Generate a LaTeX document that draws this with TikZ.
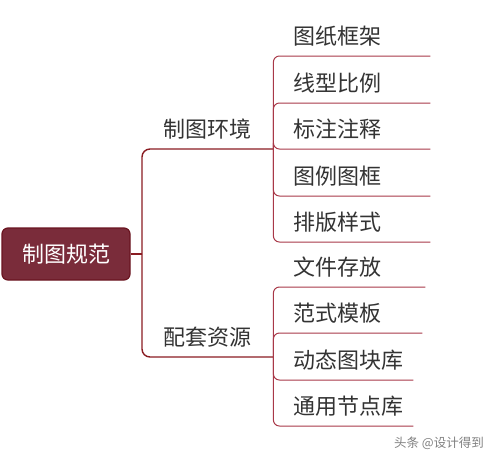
\documentclass[tikz,border=0pt]{standalone}
\usepackage{fontspec}
\newfontfamily\cjk{Noto Sans CJK SC}
\usetikzlibrary{positioning}
\usepackage{xcolor}

\definecolor{rootred}{HTML}{7A2C3A}
\definecolor{rootedge}{HTML}{6A1420}
\definecolor{mainline}{HTML}{8A1C22}
\definecolor{subline}{HTML}{A83848}
\definecolor{txtgray}{HTML}{333333}

\tikzset{
	rootbox/.style={draw=rootedge, fill=rootred, rounded corners=6pt, line width=1.2pt, text=white, minimum width=128pt, minimum height=52pt},
	branch/.style={anchor=south west, minimum width=131pt, inner xsep=0pt, inner ysep=11pt, text depth=0pt, text=txtgray},
	leaf/.style={anchor=south west, align=left, text width=#1, inner xsep=0pt, inner ysep=11pt, text depth=0pt, text=txtgray},
	mainlink/.style={draw=mainline, line width=1.4pt, rounded corners=8pt},
	sublink/.style={draw=subline, line width=1pt, rounded corners=6pt}
}

\begin{document}
\begin{tikzpicture}[x=1pt, y=-1pt, every node/.style={font=\cjk\fontsize{22}{26}\selectfont}]
	\useasboundingbox (0,0) rectangle (495,459);

	\node[rootbox] (root) at (66,254) {制图规范};
	\coordinate (j0) at (142,254);

	\node[branch] (env) at (142,149) {制图环境};
	\node[branch] (res) at (142,357) {配套资源};

	\draw[mainlink] (root.east) -- (j0);
	\draw[mainlink] (j0) |- (env.south east);
	\draw[mainlink] (j0) |- (res.south east);

	% 制图环境
	\node[leaf=137pt] (e1) at (293,56) {图纸框架};
	\node[leaf=137pt] (e2) at (293,103) {线型比例};
	\node[leaf=137pt] (e3) at (293,149) {标注注释};
	\node[leaf=137pt] (e4) at (293,196) {图例图框};
	\node[leaf=137pt] (e5) at (293,242) {排版样式};
	\foreach \c in {e1,e2,e3,e4,e5}
		\draw[sublink] (env.south east) |- (\c.south east);

	% 配套资源
	\node[leaf=132pt] (r1) at (293,287) {文件存放};
	\node[leaf=129pt] (r2) at (293,333) {范式模板};
	\node[leaf=120pt] (r3) at (293,380) {动态图块库};
	\node[leaf=120pt] (r4) at (293,426) {通用节点库};
	\foreach \c in {r1,r2,r3,r4}
		\draw[sublink] (res.south east) |- (\c.south east);

	\node[font=\cjk\fontsize{12.5}{14}\selectfont, text=gray] (mark) at (439,443) {头条 @设计得到};
\end{tikzpicture}
\end{document}
